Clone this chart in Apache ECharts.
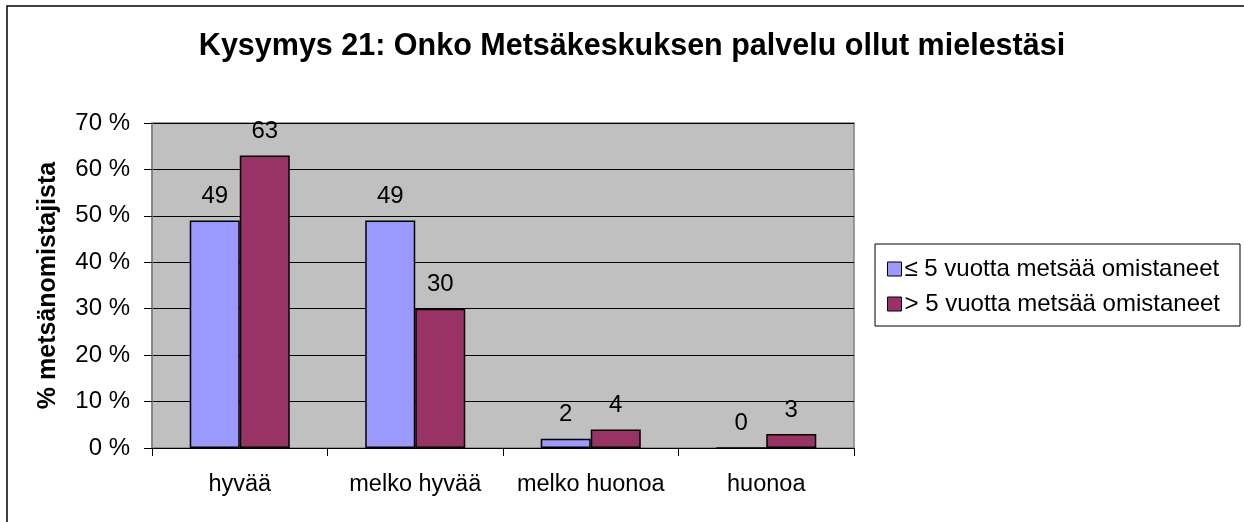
<!DOCTYPE html>
<html>
<head>
<meta charset="utf-8">
<script src="https://cdn.jsdelivr.net/npm/echarts@6/dist/echarts.min.js"></script>
<style>
  html, body { margin: 0; padding: 0; background: #fff; }
  #main { width: 1244px; height: 522px; }
</style>
</head>
<body>
<div id="main"></div>
<script>
// kategoriat ja sarjat
var categories = ['hyvää', 'melko hyvää', 'melko huonoa', 'huonoa']
var seriesNames = ['≤ 5 vuotta metsää omistaneet', '> 5 vuotta metsää omistaneet']
var shortOwners = [49, 49, 2, 0]
var longOwners = [63, 30, 4, 3]
var yTicks = [0, 10, 20, 30, 40, 50, 60, 70]

var font = 'Arial, "Liberation Sans", sans-serif'

var myChart = echarts.init(document.getElementById('main'))

function barSeries (name, data, color) {
  return {
    name: name,
    type: 'bar',
    data: data,
    barGap: '0%',
    barCategoryGap: '43%',
    itemStyle: {
      color: color,
      borderColor: '#000',
      borderWidth: 1.5
    },
    label: {
      show: true,
      position: 'top',
      distance: 12,
      color: '#000',
      fontFamily: font,
      fontSize: 24
    }
  }
}

myChart.setOption({
  animation: false,
  title: {
    text: 'Kysymys 21: Onko Metsäkeskuksen palvelu ollut mielestäsi',
    left: 627,
    textAlign: 'center',
    top: 26,
    textStyle: {
      fontFamily: font,
      fontSize: 30.5,
      fontWeight: 'bold',
      color: '#000'
    }
  },
  graphic: [
    {
      type: 'rect',
      shape: { x: 7, y: 6, width: 1260, height: 540 },
      style: { fill: 'none', stroke: '#000', lineWidth: 1.5 },
      silent: true
    },
    {
      type: 'rect',
      shape: { x: 875, y: 244, width: 365, height: 82 },
      style: { fill: '#fff', stroke: '#000', lineWidth: 1 },
      silent: true,
      z: -1
    }
  ],
  legend: {
    orient: 'vertical',
    left: 882,
    top: 252,
    itemWidth: 14,
    itemHeight: 14,
    itemGap: 11,
    icon: 'rect',
    textStyle: {
      fontFamily: font,
      fontSize: 24,
      color: '#000',
      padding: [0, 0, 0, -2]
    },
    itemStyle: { borderColor: '#000', borderWidth: 1 },
    data: seriesNames
  },
  grid: {
    left: 152,
    right: 390,
    top: 123,
    bottom: 74,
    show: true,
    backgroundColor: '#C0C0C0',
    borderColor: '#808080',
    borderWidth: 1.5
  },
  xAxis: {
    type: 'category',
    data: categories,
    axisLine: { lineStyle: { color: '#000', width: 1 } },
    axisTick: { show: true, interval: 0, length: 8, lineStyle: { color: '#000' } },
    axisLabel: {
      interval: 0,
      margin: 25,
      color: '#000',
      fontFamily: font,
      fontSize: 23.5
    }
  },
  yAxis: {
    type: 'value',
    min: yTicks[0],
    max: yTicks[yTicks.length - 1],
    interval: 10,
    name: '% metsänomistajista',
    nameLocation: 'middle',
    nameGap: 91,
    nameTextStyle: {
      fontFamily: font,
      fontSize: 25,
      fontWeight: 'bold',
      color: '#000'
    },
    axisLine: { show: true, lineStyle: { color: '#808080', width: 1.5 } },
    axisTick: { show: true, inside: false, length: 8, lineStyle: { color: '#000' } },
    axisLabel: {
      margin: 22,
      color: '#000',
      fontFamily: font,
      fontSize: 24,
      formatter: '{value} %'
    },
    splitLine: { show: true, lineStyle: { color: '#000', width: 1 } }
  },
  series: [
    barSeries(seriesNames[0], shortOwners, '#9999FF'),
    barSeries(seriesNames[1], longOwners, '#993366')
  ]
})
</script>
</body>
</html>
